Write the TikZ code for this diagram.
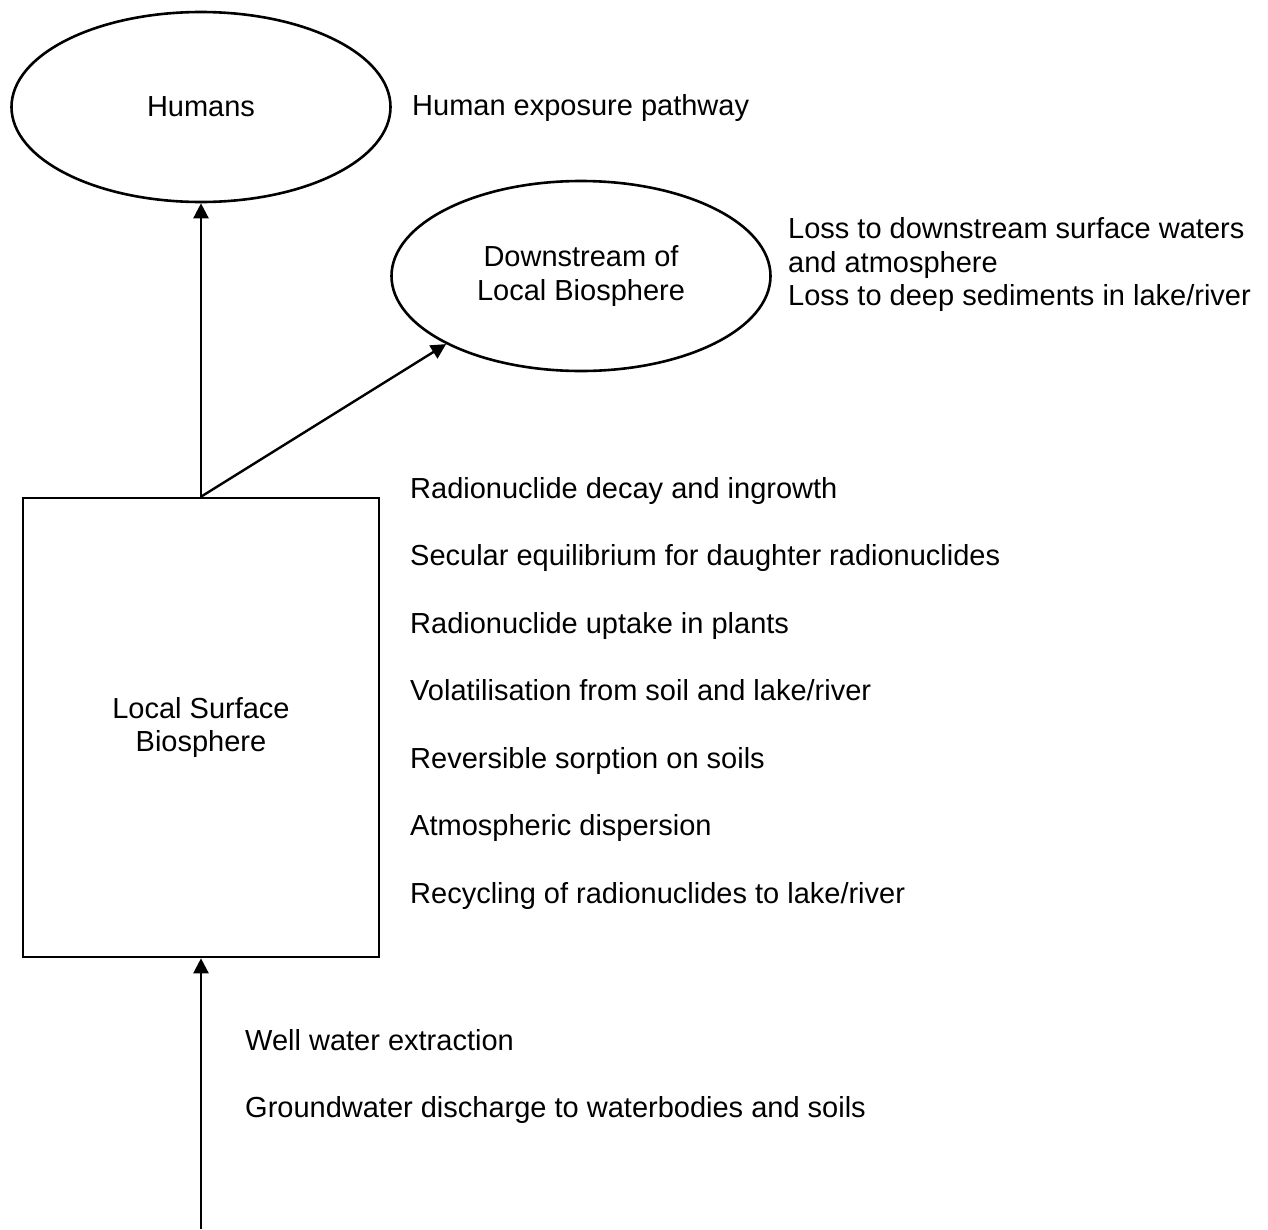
\documentclass[tikz,border=0pt]{standalone}
\usepackage{fontspec}
\setmainfont{Liberation Sans}
\usetikzlibrary{arrows.meta,shapes.geometric}
\begin{document}
\begin{tikzpicture}[x=1pt,y=-1pt,
  every node/.style={font=\fontsize{29}{33.5}\selectfont},
  outline/.style={draw, line width=2.6pt, inner sep=0pt},
  oval/.style={outline, ellipse, minimum width=379pt, minimum height=190pt},
  flow/.style={line width=2.4pt, -{Triangle[length=15pt,width=15pt]}},
  note/.style={anchor=base west, inner sep=0pt},
  block/.style={anchor=north west, inner sep=0pt, align=left}]
\useasboundingbox (0,0) rectangle (1268,1229);

% compartments
\node[oval] (humans) at (201,107) {Humans};
\node[oval, align=center] (down) at (581,276) {Downstream of\\Local Biosphere};
\node[outline, rectangle, minimum width=356pt, minimum height=459pt, align=center]
  (local) at (201,727.5) {Local Surface\\Biosphere};
\coordinate (geo) at (201,1229);

% transfers
\draw[flow] (local.north) -- (humans.south);
\draw[flow] (local.north) -- (down.south west);
\draw[flow] (geo) -- (local.south);

% processes
\node[note] (hexp) at (412,115) {Human exposure pathway};
\node[block] (loss) at (788,217.5) {Loss to downstream surface waters\\and atmosphere\\Loss to deep sediments in lake/river};

\node[note] (p1) at (410,498) {Radionuclide decay and ingrowth};
\node[note] (p2) at (410,565.5) {Secular equilibrium for daughter radionuclides};
\node[note] (p3) at (410,633) {Radionuclide uptake in plants};
\node[note] (p4) at (410,700.5) {Volatilisation from soil and lake/river};
\node[note] (p5) at (410,768) {Reversible sorption on soils};
\node[note] (p6) at (410,835.5) {Atmospheric dispersion};
\node[note] (p7) at (410,903) {Recycling of radionuclides to lake/river};

\node[note] (w1) at (245,1050) {Well water extraction};
\node[note] (w2) at (245,1117) {Groundwater discharge to waterbodies and soils};
\end{tikzpicture}
\end{document}
